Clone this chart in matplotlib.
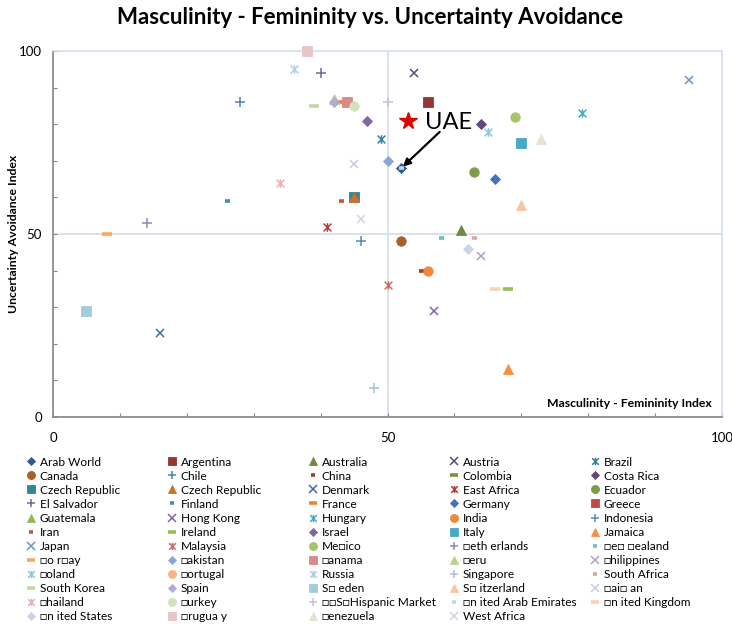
import numpy as np
import matplotlib
matplotlib.use("Agg")
import matplotlib.pyplot as plt
from matplotlib.path import Path

plt.rcParams['font.family'] = ['Lato', 'DejaVu Sans']

NAN = np.nan

# legend order (row-major, as Excel lays it out)
countries = [
    "Arab World", "Argentina", "Australia", "Austria", "Brazil",
    "Canada", "Chile", "China", "Colombia", "Costa Rica",
    "Czech Republic", "Czech Republic", "Denmark", "East Africa", "Ecuador",
    "El Salvador", "Finland", "France", "Germany", "Greece",
    "Guatemala", "Hong Kong", "Hungary", "India", "Indonesia",
    "Iran", "Ireland", "Israel", "Italy", "Jamaica",
    "Japan", "Malaysia", "Me\u25a1ico", "\u25a1eth erlands", "\u25a1e\u25a1 \u25a1ealand",
    "\u25a1o r\u25a1ay", "\u25a1akistan", "\u25a1anama", "\u25a1eru", "\u25a1hilippines",
    "\u25a1oland", "\u25a1ortugal", "Russia", "Singapore", "South Africa",
    "South Korea", "Spain", "S\u25a1 eden", "S\u25a1 itzerland", "\u25a1ai\u25a1 an",
    "\u25a1hailand", "\u25a1urkey", "\u25a1\u25a1S\u25a1Hispanic Market", "\u25a1n ited Arab Emirates", "\u25a1n ited Kingdom",
    "\u25a1n ited States", "\u25a1rugua y", "\u25a1enezuela", "West Africa",
]

# Masculinity - Femininity index
mas_fem = [
    52, 56, 61, 54, 49,
    52, 28, 55, NAN, 64,
    45, 45, 16, 41, 63,
    40, 26, 43, 66, NAN,
    NAN, 57, 79, 56, 46,
    43, 68, 47, 70, 68,
    95, 50, 69, 14, 58,
    8, 50, 44, 42, 64,
    65, NAN, 36, 48, 63,
    39, 42, 5, 70, 45,
    34, 45, 50, 52, 66,
    62, 38, 73, 46,
]

# Uncertainty avoidance index
unc_avoid = [
    68, 86, 51, 94, 76,
    48, 86, 40, NAN, 80,
    60, 60, 23, 52, 67,
    94, 59, 86, 65, NAN,
    NAN, 29, 83, 40, 48,
    59, 35, 81, 75, 13,
    92, 36, 82, 53, 49,
    50, 70, 86, 87, 44,
    78, NAN, 95, 8, 49,
    85, 86, 29, 58, 69,
    64, 85, 86, 68, 35,
    46, 100, 76, 54,
]

uae_star_x = [53]
uae_star_y = [81]

# styling
marker_kinds = [
    "diamond", "square", "triangle", "x", "star", "circle", "plus", "sdash", "ldash",
    "diamond", "square", "triangle", "x", "star", "circle", "plus", "sdash", "ldash",
    "diamond", "square", "triangle", "x", "star", "circle", "plus", "sdash", "ldash",
    "diamond", "square", "triangle", "x", "star", "circle", "plus", "sdash", "ldash",
    "diamond", "square", "triangle", "x", "star", "circle",
    "star", "plus", "sdash", "ldash", "diamond", "square", "triangle", "x",
    "star", "circle", "plus", "sdash", "ldash", "diamond", "square", "triangle", "x",
]

colors = [
    "#34598A", "#943634", "#71893F", "#5F497A", "#31859C",
    "#A6602A", "#4F81BD", "#9E3A38", "#77933C", "#604A7B",
    "#31859C", "#C8722C", "#4068A8", "#B13F3C", "#7E9C48",
    "#7B62A0", "#3A94AC", "#E8843A", "#4673B5", "#BE4B48",
    "#94B65A", "#8064A2", "#4BACC6", "#F0883E", "#5887C2",
    "#C9514D", "#9ABB56", "#8066A2", "#4AAAC4", "#F69041",
    "#6F93CB", "#CD6E6B", "#A6C46A", "#9A85B7", "#6FBDD2",
    "#F9A660", "#8AA8D6", "#D78A88", "#B9D18C", "#AF9FC9",
    "#8ACBDC", "#FAB482", "#B3CFE3", "#A9BDE0", "#E0A3A1",
    "#C3D89E", "#B7A8CE", "#A1CCDB", "#FBC4A0", "#C2CCE6",
    "#E6B3B2", "#D3E2BE", "#C9BFDA", "#B8DAE6", "#FCD0B4",
    "#C8D4EA", "#E8C6C6", "#DCE6D0", "#D4D0E2",
]

star_path = Path([(-1, -1), (1, 1), (-1, 1), (1, -1), (0, -1.1), (0, 1.1)],
                 [Path.MOVETO, Path.LINETO] * 3)

MARKERS = {
    "diamond": dict(marker="D", ms=5.0, filled=True),
    "square": dict(marker="s", ms=6.6, filled=True),
    "triangle": dict(marker="^", ms=7.2, filled=True),
    "circle": dict(marker="o", ms=6.8, filled=True),
    "x": dict(marker="x", ms=6.2, mew=1.1, filled=False),
    "star": dict(marker=star_path, ms=6.2, mew=1.1, filled=False),
    "plus": dict(marker="+", ms=7.2, mew=1.1, filled=False),
    "sdash": dict(marker="_", ms=3.6, mew=2.6, filled=False),
    "ldash": dict(marker="_", ms=7.5, mew=2.6, filled=False),
}

GRID = "#D5E0EF"
AXIS = "#868686"

fig = plt.figure(figsize=(7.32, 6.24), dpi=100)
ax = fig.add_axes([53 / 732, 207 / 624, 669 / 732, 366 / 624])

handles = []
for i, name in enumerate(countries):
    spec = MARKERS[marker_kinds[i]]
    kw = dict(linestyle="none", marker=spec["marker"], markersize=spec["ms"],
              color=colors[i], clip_on=False, zorder=3 + i * 0.01)
    if spec["filled"]:
        kw.update(markerfacecolor=colors[i], markeredgecolor=colors[i], markeredgewidth=0.6)
    else:
        kw.update(markerfacecolor="none", markeredgecolor=colors[i], markeredgewidth=spec["mew"])
    h, = ax.plot([mas_fem[i]], [unc_avoid[i]], label=name, **kw)
    handles.append(h)

ax.plot(uae_star_x, uae_star_y, linestyle="none", marker="*", markersize=13,
        color="#E00000", zorder=5, clip_on=False)

# UAE annotation, pointing at the UAE series point
uae_idx = 53
ax.annotate("", xy=(mas_fem[uae_idx] + 0.3, unc_avoid[uae_idx] + 0.4),
            xytext=(57.8, 77.9),
            arrowprops=dict(arrowstyle="-|>", color="black", lw=1.6, mutation_scale=11,
                            shrinkA=0, shrinkB=0), zorder=6)
ax.text(59.2, 80.6, "UAE", fontsize=17, fontweight="normal", ha="center", va="center",
        color="black", zorder=6)

ax.set_xlim(0, 100)
ax.set_ylim(0, 100)
ax.set_xticks([0, 50, 100])
ax.set_yticks([0, 50, 100])
ax.set_xticks(np.arange(0, 101, 10), minor=True)
ax.set_yticks(np.arange(0, 101, 10), minor=True)
ax.tick_params(which="both", direction="in", length=3, width=0.8, color=AXIS)
ax.tick_params(axis="x", which="major", pad=11, labelsize=9.5)
ax.tick_params(axis="y", which="major", pad=8, labelsize=9.5)
ax.grid(which="major", color=GRID, lw=1.3, zorder=0)
ax.set_axisbelow(True)

ax.spines["left"].set_color(AXIS)
ax.spines["bottom"].set_color(AXIS)
ax.spines["top"].set_color(GRID)
ax.spines["right"].set_color(GRID)
for s in ax.spines.values():
    s.set_linewidth(1.2)

for lbl in ax.get_xticklabels():
    lbl.set_clip_on(False)

ax.text(0.985, 0.038, "Masculinity - Femininity Index", transform=ax.transAxes,
        ha="right", va="center", fontsize=8.8, fontweight="bold")
fig.text(14 / 732, 1 - 234 / 624, "Uncertainty Avoidance Index", rotation=90,
         ha="center", va="center", fontsize=8.8, fontweight="bold")

fig.text(370 / 732, 1 - 18 / 624, "Masculinity - Femininity vs. Uncertainty Avoidance",
         ha="center", va="center", fontsize=16, fontweight="bold")

# legend: 5 evenly spaced columns, filled row by row
col_x = [25.2, 166.2, 307.2, 448.5, 589.2]
for c in range(5):
    leg = fig.legend(handles[c::5], [h.get_label() for h in handles[c::5]],
                     loc="upper left", bbox_to_anchor=(col_x[c] / 732, 1 - 456.5 / 624),
                     frameon=False, fontsize=8.6, handlelength=1.0, handletextpad=0.2,
                     labelspacing=0.255, borderpad=0, borderaxespad=0, markerscale=0.85,
                     numpoints=1)

fig.savefig("out.png", dpi=100)
